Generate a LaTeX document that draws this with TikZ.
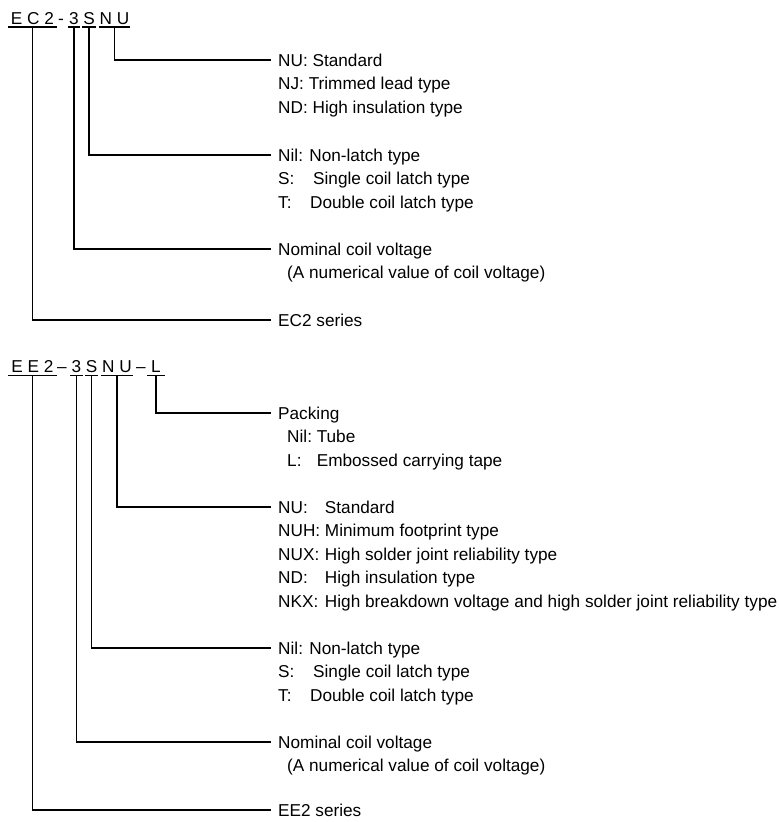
\documentclass[tikz,border=0pt]{standalone}
\usepackage{fontspec}
\setmainfont{Liberation Sans}
\usetikzlibrary{positioning}

% aligned key column inside a description line
\newcommand{\tabkey}[2]{\makebox[#1][l]{#2}}

\tikzset{
  codepart/.style={anchor=base, inner xsep=0pt, inner ysep=0pt, text depth=2.7pt, minimum width=#1},
  desc/.style={anchor=west, inner xsep=8pt, inner ysep=0pt, text height=12.3pt, text depth=0pt},
  lead/.style={line width=1.2pt, line cap=rect},
}

\begin{document}
\begin{tikzpicture}[x=1pt, y=-1pt, font=\fontsize{17.2}{23.5}\selectfont]
    \useasboundingbox (0,0) rectangle (779,822);

    % EC2 part number
    \node[codepart=47pt] (ec) at (32.5,24) {E C 2};
    \node[codepart=0pt] (ecdash) at (61,24) {-};
    \node[codepart=11pt] (ecvolt) at (74,24) {3};
    \node[codepart=12pt] (eclatch) at (89,24) {S};
    \node[codepart=28pt] (ecterm) at (114.5,24) {N U};
    \foreach \p in {ec, ecvolt, eclatch, ecterm}
        \draw[lead] (\p.south west) -- (\p.south east);

    \node[desc] (ectermA) at (270,60) {NU: Standard};
    \node[desc] (ectermB) at (270,83.5) {NJ: Trimmed lead type};
    \node[desc] (ectermC) at (270,107) {ND: High insulation type};
    \node[desc] (eclatchA) at (270,155) {Nil: Non-latch type};
    \node[desc] (eclatchB) at (270,178.5) {\tabkey{35pt}{S:}Single coil latch type};
    \node[desc] (eclatchC) at (270,202) {\tabkey{32pt}{T:}Double coil latch type};
    \node[desc] (ecvoltA) at (270,249) {Nominal coil voltage};
    \node[desc] (ecvoltB) at (270,272.5) {\hspace*{9pt}(A numerical value of coil voltage)};
    \node[desc] (ecseries) at (270,320) {EC2 series};

    \draw[lead] (ecterm.south) |- (ectermA.west);
    \draw[lead] (eclatch.south) |- (eclatchA.west);
    \draw[lead] (ecvolt.south) |- (ecvoltA.west);
    \draw[lead] (ec.south) |- (ecseries.west);

    % EE2 part number
    \node[codepart=47pt] (ee) at (32.5,372.7) {E E 2};
    \node[codepart=0pt] (eedash) at (62,372.7) {--};
    \node[codepart=11pt] (eevolt) at (76.5,372.7) {3};
    \node[codepart=12pt] (eelatch) at (91.5,372.7) {S};
    \node[codepart=30pt] (eeterm) at (117,372.7) {N U};
    \node[codepart=0pt] (eedashB) at (141,372.7) {--};
    \node[codepart=16pt] (eepack) at (156,372.7) {L};
    \foreach \p in {ee, eevolt, eelatch, eeterm, eepack}
        \draw[lead] (\p.south west) -- (\p.south east);

    \node[desc] (eepackA) at (270,413) {Packing};
    \node[desc] (eepackB) at (270,436.5) {\hspace*{9pt}\tabkey{29.6pt}{Nil:}Tube};
    \node[desc] (eepackC) at (270,460) {\hspace*{9pt}\tabkey{29.6pt}{L:}Embossed carrying tape};
    \node[desc] (eetermA) at (270,507) {\tabkey{46.8pt}{NU:}Standard};
    \node[desc] (eetermB) at (270,530.5) {\tabkey{46.8pt}{NUH:}Minimum footprint type};
    \node[desc] (eetermC) at (270,554) {\tabkey{46.8pt}{NUX:}High solder joint reliability type};
    \node[desc] (eetermD) at (270,577.5) {\tabkey{46.8pt}{ND:}High insulation type};
    \node[desc] (eetermE) at (270,601) {\tabkey{46.8pt}{NKX:}High breakdown voltage and high solder joint reliability type};
    \node[desc] (eelatchA) at (270,648) {Nil: Non-latch type};
    \node[desc] (eelatchB) at (270,671.5) {\tabkey{35pt}{S:}Single coil latch type};
    \node[desc] (eelatchC) at (270,695) {\tabkey{32pt}{T:}Double coil latch type};
    \node[desc] (eevoltA) at (270,742) {Nominal coil voltage};
    \node[desc] (eevoltB) at (270,765.5) {\hspace*{9pt}(A numerical value of coil voltage)};
    \node[desc] (eeseries) at (270,810) {EE2 series};

    \draw[lead] (eepack.south) |- (eepackA.west);
    \draw[lead] (eeterm.south) |- (eetermA.west);
    \draw[lead] (eelatch.south) |- (eelatchA.west);
    \draw[lead] (eevolt.south) |- (eevoltA.west);
    \draw[lead] (ee.south) |- (eeseries.west);
\end{tikzpicture}
\end{document}
